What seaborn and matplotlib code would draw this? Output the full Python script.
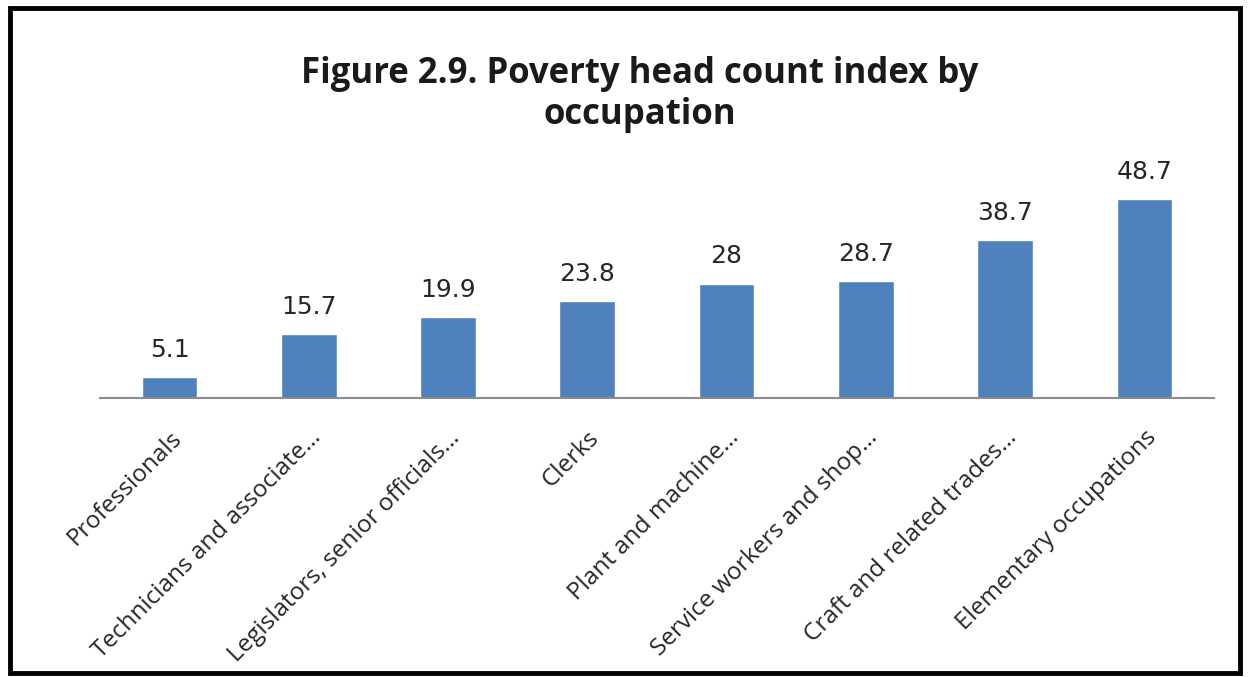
import matplotlib
matplotlib.use("Agg")
import matplotlib.pyplot as plt
import matplotlib.patches as mpatches
import seaborn as sns
import pandas as pd

occupations = [
    "Professionals",
    "Technicians and associate\u2026",
    "Legislators, senior officials\u2026",
    "Clerks",
    "Plant and machine\u2026",
    "Service workers and shop\u2026",
    "Craft and related trades\u2026",
    "Elementary occupations",
]
headcount = [5.1, 15.7, 19.9, 23.8, 28.0, 28.7, 38.7, 48.7]
value_labels = ["5.1", "15.7", "19.9", "23.8", "28", "28.7", "38.7", "48.7"]

df = pd.DataFrame({"occupation": occupations, "headcount": headcount})

sns.set_theme(style="white")
plt.rcParams["font.family"] = ["Open Sans", "DejaVu Sans"]

fig = plt.figure(figsize=(12.49, 6.77), dpi=100)
fig.patch.set_facecolor("white")
ax = fig.add_axes([0.080, 0.412, 0.892, 0.362])

sns.barplot(data=df, x="occupation", y="headcount", color="#4F81BD",
            saturation=1, width=0.4, ax=ax)

ax.set_ylim(0, 60)
ax.set_xlim(-0.5, len(occupations) - 0.5)
ax.set_xlabel("")
ax.set_ylabel("")
ax.set_yticks([])
for side in ["top", "right", "left"]:
    ax.spines[side].set_visible(False)
ax.spines["bottom"].set_color("#8C8C8C")
ax.spines["bottom"].set_linewidth(1.5)
ax.tick_params(axis="x", length=0, pad=20)
ax.set_xticks(range(len(occupations)))
ax.set_xticklabels(occupations, rotation=45, ha="right", rotation_mode="anchor",
                   fontsize=17.5, color="#262626")

for i, (v, lab) in enumerate(zip(headcount, value_labels)):
    ax.annotate(lab, xy=(i, v), xytext=(0, 11), textcoords="offset points",
                ha="center", va="bottom", fontsize=18, color="#262626",
                family=["DejaVu Sans"])

fig.text(0.512, 0.860, "Figure 2.9. Poverty head count index by\noccupation",
         ha="center", va="center", fontsize=25, fontweight="bold",
         linespacing=1.2, color="#1a1a1a")

border = mpatches.Rectangle((10 / 1249, 4 / 677), 1230 / 1249, 665 / 677,
                            transform=fig.transFigure, fill=False,
                            edgecolor="black", linewidth=3.5)
fig.patches.append(border)

fig.savefig("out.png", dpi=100, facecolor="white")
